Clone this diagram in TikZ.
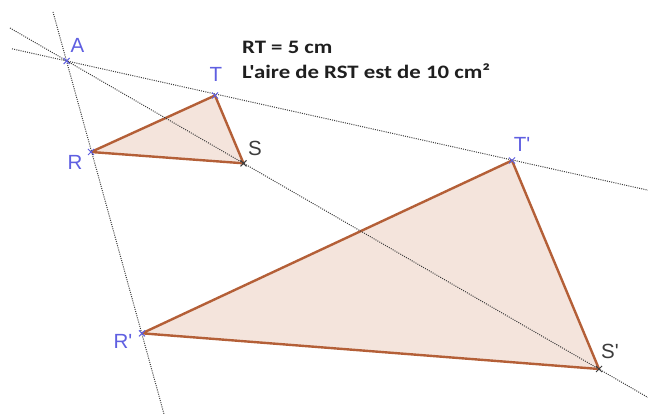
\documentclass[tikz,border=0pt]{standalone}
\usepackage{fontspec}
\newfontfamily\labfont{Liberation Sans}
\newfontfamily\txtfont{Carlito}[FakeStretch=1.2]
\definecolor{ptblue}{RGB}{95,95,225}
\definecolor{ptgray}{RGB}{60,60,60}
\definecolor{edge}{RGB}{180,95,55}
\definecolor{fillc}{RGB}{244,228,220}
\definecolor{dotc}{RGB}{60,60,60}
\tikzset{
  dotline/.style={draw=dotc,line width=1pt,dash pattern=on 1pt off 1.2pt},
  tri/.style={draw=edge,fill=fillc,line width=2.4pt,line join=round},
  lblb/.style={anchor=base,text=ptblue,font=\labfont\fontsize{20.5}{20.5}\selectfont,inner sep=0pt},
  lblg/.style={anchor=base,text=ptgray,font=\labfont\fontsize{20.5}{20.5}\selectfont,inner sep=0pt},
  info/.style={anchor=base west,font=\txtfont\bfseries\fontsize{19}{19}\selectfont,inner sep=0pt,text=black!88}
}
\newcommand{\crossmark}[2]{\draw[#2,line width=1pt] ([shift={(-3,-3)}]#1) -- ([shift={(3,3)}]#1) ([shift={(-3,3)}]#1) -- ([shift={(3,-3)}]#1);}
\begin{document}
\begin{tikzpicture}[x=1pt,y=-1pt]
\useasboundingbox (0,0) rectangle (648,414);
% points
\coordinate (A) at (66.7,61);
\coordinate (T) at (215,95.5);
\coordinate (R) at (91,152);
\coordinate (S) at (243.5,163.3);
\coordinate (T2) at (512,160.5);
\coordinate (R2) at (142,333.3);
\coordinate (S2) at (599,369);
% line ends
\coordinate (L1a) at (12,48.8);
\coordinate (L1b) at (648,190.2);
\coordinate (L2a) at (10,28);
\coordinate (L2b) at (648,397.5);
\coordinate (L3a) at (53,12);
\coordinate (L3b) at (164,414);
% triangles
\filldraw[tri] (R) -- (T) -- (S) -- cycle;
\filldraw[tri] (R2) -- (T2) -- (S2) -- cycle;
% dotted lines
\draw[dotline] (L1a) -- (L1b);
\draw[dotline] (L2a) -- (L2b);
\draw[dotline] (L3a) -- (L3b);
% marks
\crossmark{A}{ptblue}
\crossmark{T}{ptblue}
\crossmark{R}{ptblue}
\crossmark{T2}{ptblue}
\crossmark{R2}{ptblue}
\crossmark{S}{ptgray}
\crossmark{S2}{ptgray}
% labels
\node[lblb] (lA) at (77.5,53) {A};
\node[lblb] (lT) at (216,82) {T};
\node[lblb] (lR) at (75,170) {R};
\node[lblg] (lS) at (255,155.5) {S};
\node[lblb] (lT2) at (522,152) {T'};
\node[lblb] (lR2) at (123,348) {R'};
\node[lblg] (lS2) at (610,358) {S'};
% text
\node[info] (t1) at (242,53.3) {RT = 5 cm};
\node[info] (t2) at (242,78.5) {L'aire de RST est de 10 cm²};
\end{tikzpicture}
\end{document}
